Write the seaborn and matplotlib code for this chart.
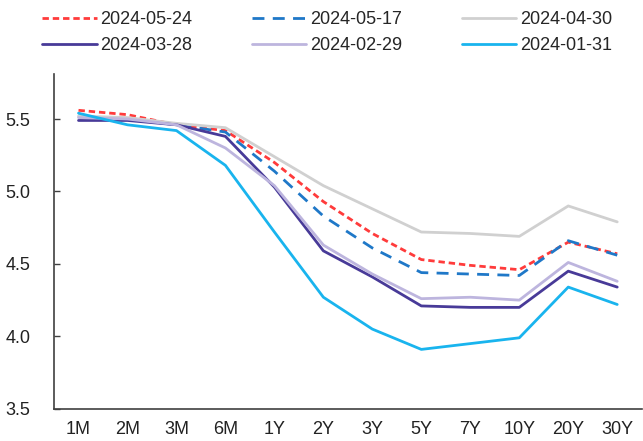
import numpy as np
import pandas as pd
import matplotlib
matplotlib.use("Agg")
import matplotlib.pyplot as plt
import seaborn as sns

# Yield curve by tenor for six observation dates
tenors = ["1M", "2M", "3M", "6M", "1Y", "2Y", "3Y", "5Y", "7Y", "10Y", "20Y", "30Y"]
dates = ["2024-05-24", "2024-05-17", "2024-04-30", "2024-03-28", "2024-02-29", "2024-01-31"]

y_0524 = [5.56, 5.53, 5.46, 5.42, 5.20, 4.93, 4.71, 4.53, 4.49, 4.46, 4.65, 4.57]
y_0517 = [5.52, 5.50, 5.46, 5.41, 5.14, 4.83, 4.61, 4.44, 4.43, 4.42, 4.66, 4.56]
y_0430 = [5.52, 5.51, 5.47, 5.44, 5.24, 5.04, 4.88, 4.72, 4.71, 4.69, 4.90, 4.79]
y_0328 = [5.49, 5.49, 5.46, 5.38, 5.03, 4.59, 4.41, 4.21, 4.20, 4.20, 4.45, 4.34]
y_0229 = [5.51, 5.50, 5.46, 5.30, 5.04, 4.63, 4.43, 4.26, 4.27, 4.25, 4.51, 4.38]
y_0131 = [5.54, 5.46, 5.42, 5.18, 4.72, 4.27, 4.05, 3.91, 3.95, 3.99, 4.34, 4.22]

series = [y_0524, y_0517, y_0430, y_0328, y_0229, y_0131]
colors = ["#FF3B3B", "#1F78C8", "#D0D0D0", "#483A98", "#BDB5DE", "#19B4EE"]
dash_styles = [(2.3, 1.4), (4.3, 3.0), "", "", "", ""]

pos = np.arange(len(tenors))
df = pd.concat(
    [pd.DataFrame({"pos": pos, "rate": vals, "date": d}) for d, vals in zip(dates, series)],
    ignore_index=True,
)

sns.set_theme(style="white")
plt.rcParams["font.family"] = ["Liberation Sans", "DejaVu Sans"]

fig = plt.figure(figsize=(6.43, 4.41), dpi=100)
ax = fig.add_axes([0.084, 0.073, 0.914, 0.759])

sns.lineplot(
    data=df, x="pos", y="rate", hue="date", style="date",
    hue_order=dates, style_order=dates,
    palette=dict(zip(dates, colors)),
    dashes=dict(zip(dates, dash_styles)),
    linewidth=2.0, ax=ax, legend=True, sort=False,
)

ax.set_xlim(-0.5, len(tenors) - 0.5)
ax.set_ylim(3.5, 5.81)
ax.set_yticks([3.5, 4.0, 4.5, 5.0, 5.5])
ax.set_yticklabels(["3.5", "4.0", "4.5", "5.0", "5.5"])
ax.set_xticks(pos)
ax.set_xticklabels(tenors)
ax.set_xticks(np.arange(0.5, len(tenors) - 0.5, 1.0), minor=True)
ax.tick_params(axis="x", which="major", length=0, pad=9, labelsize=13, colors="#222222")
ax.tick_params(axis="x", which="minor", direction="in", length=4, width=1, color="#404040")
ax.tick_params(axis="y", direction="in", length=4, width=1, color="#404040",
               pad=17, labelsize=13, labelcolor="#222222", left=True)
ax.set_xlabel("")
ax.set_ylabel("")

for side in ["top", "right"]:
    ax.spines[side].set_visible(False)
for side in ["left", "bottom"]:
    ax.spines[side].set_color("#404040")
    ax.spines[side].set_linewidth(1.2)

# Legend laid out row by row in three columns above the plot
handles, labels = ax.get_legend_handles_labels()
order = [0, 3, 1, 4, 2, 5]
ax.legend(
    [handles[i] for i in order], [labels[i] for i in order],
    ncol=3, loc="upper center", bbox_to_anchor=(0.509, 1.012),
    bbox_transform=fig.transFigure, frameon=False,
    fontsize=13, handlelength=3.0, handletextpad=0.22,
    columnspacing=3.3, labelspacing=0.5,
)

fig.savefig("out.png", dpi=100)
